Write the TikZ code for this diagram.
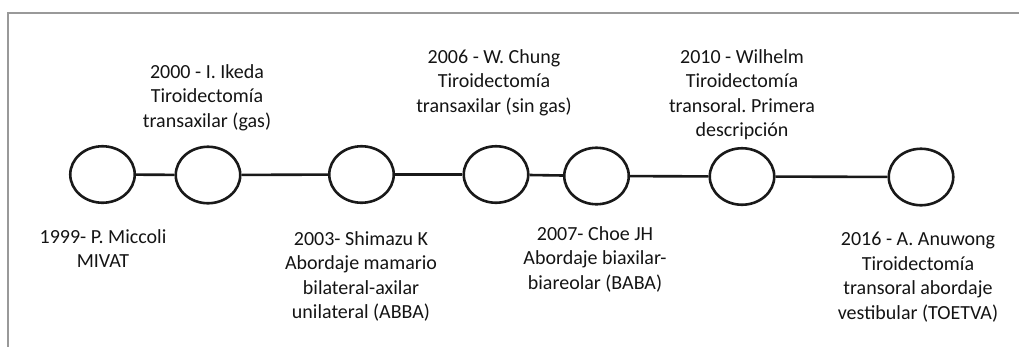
\documentclass[tikz,border=0pt]{standalone}
\usepackage{fontspec}
\setmainfont{Carlito}
\usetikzlibrary{shapes.geometric}
\frenchspacing
\begin{document}
\begin{tikzpicture}[x=1pt,y=-1pt,
  event/.style={draw=black!90, ellipse, line width=2.6pt,
    minimum width=64.5pt, minimum height=56.5pt, inner sep=0pt},
  link/.style={draw=black!90, line width=2.6pt},
  frameline/.style={draw=black!40, line width=2.2pt},
  lbl/.style={align=center, inner sep=0pt, text=black!92,
    font=\fontsize{20}{24.5}\selectfont}]
\useasboundingbox (0,0) rectangle (1019,346);

% open frame: top and left edges
\draw[frameline] (1025,12.7) -- (8.3,12.7) -- (8.3,352);

% timeline events
\node[event] (e1) at (102.5,174.5) {};
\node[event] (e2) at (208,175) {};
\node[event] (e3) at (361.5,174.5) {};
\node[event] (e4) at (496,174.5) {};
\node[event] (e5) at (596.5,176) {};
\node[event] (e6) at (742,176.5) {};
\node[event] (e7) at (921,177) {};

\draw[link] (e1) -- (e2);
\draw[link] (e2) -- (e3);
\draw[link] (e3) -- (e4);
\draw[link] (e4) -- (e5);
\draw[link] (e5) -- (e6);
\draw[link] (e6) -- (e7);

% labels above the line
\node[lbl, anchor=north] (t2) at (207,64) {2000 - I. Ikeda\\Tiroidectomía\\transaxilar (gas)};
\node[lbl, anchor=north] (t4) at (494,49) {2006 - W. Chung\\Tiroidectomía\\transaxilar (sin gas)};
\node[lbl, anchor=north] (t6) at (742,49) {2010 - Wilhelm\\Tiroidectomía\\transoral. Primera\\descripción};

% labels below the line
\node[lbl, anchor=north] (t1) at (103,229) {1999- P. Miccoli\\MIVAT};
\node[lbl, anchor=north] (t3) at (361,231) {2003- Shimazu K\\Abordaje mamario\\bilateral-axilar\\unilateral (ABBA)};
\node[lbl, anchor=north] (t5) at (595,226) {2007- Choe JH\\Abordaje biaxilar-\\biareolar (BABA)};
\node[lbl, anchor=north] (t7) at (918,232) {2016 - A. Anuwong\\Tiroidectomía\\transoral abordaje\\vestibular (TOETVA)};
\end{tikzpicture}
\end{document}
